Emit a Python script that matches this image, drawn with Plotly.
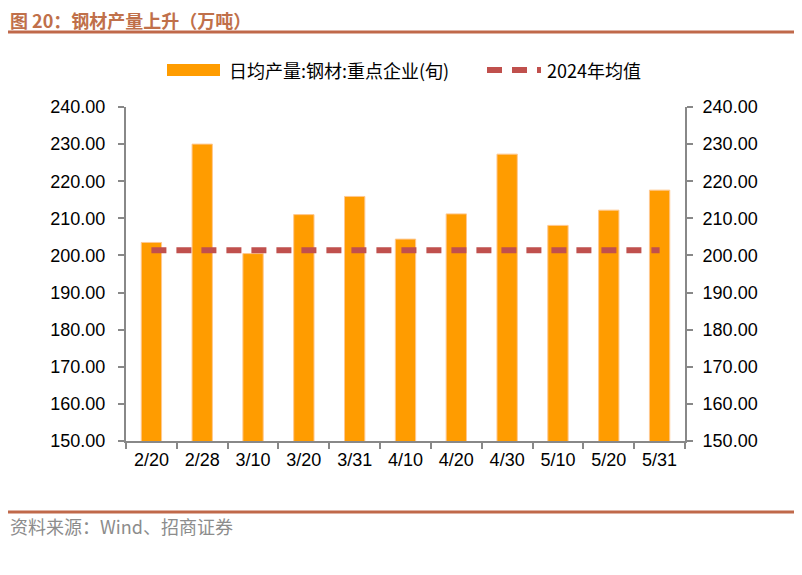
import plotly.graph_objects as go

categories = ["2/20", "2/28", "3/10", "3/20", "3/31", "4/10", "4/20", "4/30", "5/10", "5/20", "5/31"]
output_values = [203.5, 230.0, 200.5, 211.0, 215.9, 204.4, 211.2, 227.3, 208.1, 212.2, 217.6]
avg_2024 = [201.4] * len(categories)
y_ticks = [150, 160, 170, 180, 190, 200, 210, 220, 230, 240]
y_tick_text = [f"{v:.2f}" for v in y_ticks]
bar_name = "日均产量:钢材:重点企业(旬)"
line_name = "2024年均值"

num_font = "Liberation Sans, Arial, sans-serif"
cjk_font = "Noto Sans CJK SC, Liberation Sans, sans-serif"
BAR_COLOR = "#FF9C00"
LINE_COLOR = "#C0504D"
ACCENT = "#C0694A"

# page body has an 8px margin, so the figure is laid out 8px smaller
OFF = 8
W, H = 802 - OFF, 575 - OFF
L, R, T, B = 126 - OFF, 685 - OFF, 107 - OFF, 441 - OFF
PW, PH = R - L, B - T


def px(x):
    """reference-screen x -> paper coords"""
    return (x - OFF - L) / PW


def py(y):
    """reference-screen y -> paper coords"""
    return (B - (y - OFF)) / PH


fig = go.Figure()
fig.add_trace(go.Bar(
    x=categories, y=output_values, name=bar_name,
    marker=dict(color=BAR_COLOR, line=dict(color="#FFC890", width=1)),
    yaxis="y",
))
fig.add_trace(go.Scatter(
    x=categories, y=avg_2024, name=line_name, mode="lines",
    line=dict(color=LINE_COLOR, width=6, dash="15px,10px"),
    yaxis="y2",
))

axis_common = dict(
    range=[150, 240], tickvals=y_ticks, ticktext=y_tick_text,
    showgrid=False, zeroline=False, showline=True, linecolor="#888888", linewidth=2,
    ticks="outside", tickcolor="#888888", ticklen=6, tickwidth=2,
    tickfont=dict(family=num_font, size=18, color="#000000"),
    automargin=False,
)

fig.update_layout(
    width=W, height=H,
    margin=dict(l=L, r=W - R, t=T, b=H - B, autoexpand=False),
    paper_bgcolor="white", plot_bgcolor="white",
    bargap=0.6,
    showlegend=False,
    xaxis=dict(
        type="category", showgrid=False, showline=True, linecolor="#888888", linewidth=2,
        ticks="outside", tickson="boundaries", tickcolor="#888888", ticklen=6, tickwidth=2,
        tickfont=dict(family=num_font, size=18, color="#000000"), automargin=False,
        ticklabelstandoff=1,
    ),
    yaxis=dict(side="left", ticklabelstandoff=9, **axis_common),
    yaxis2=dict(side="right", overlaying="y", ticklabelstandoff=6, **axis_common),
)

# custom legend
fig.add_shape(type="rect", xref="paper", yref="paper",
              x0=px(167), x1=px(220), y0=py(76), y1=py(64),
              fillcolor=BAR_COLOR, line=dict(width=0))
fig.add_annotation(text=bar_name, xref="paper", yref="paper", x=px(227), y=py(70),
                   xanchor="left", yanchor="middle", showarrow=False,
                   font=dict(family=cjk_font, size=18, color="#000000"))
for x0, x1 in [(487, 502), (512, 527), (537, 541)]:
    fig.add_shape(type="line", xref="paper", yref="paper",
                  x0=px(x0), x1=px(x1), y0=py(70), y1=py(70),
                  line=dict(color=LINE_COLOR, width=6))
fig.add_annotation(text=line_name, xref="paper", yref="paper", x=px(545), y=py(70),
                   xanchor="left", yanchor="middle", showarrow=False,
                   font=dict(family=cjk_font, size=18, color="#000000"))

# Title and decoration lines
fig.add_annotation(
    text="<b>图 20：钢材产量上升（万吨）</b>", xref="paper", yref="paper",
    x=px(OFF), y=py(20), xanchor="left", yanchor="middle", showarrow=False,
    font=dict(family=cjk_font, size=18, color="#C0704A"),
)
fig.add_shape(type="line", xref="paper", yref="paper",
              x0=px(OFF), x1=px(802), y0=py(32), y1=py(32),
              line=dict(color=ACCENT, width=3))
fig.add_shape(type="line", xref="paper", yref="paper",
              x0=px(OFF), x1=px(802), y0=py(512), y1=py(512),
              line=dict(color=ACCENT, width=3))
fig.add_annotation(
    text="资料来源：Wind、招商证券", xref="paper", yref="paper",
    x=px(OFF), y=py(526), xanchor="left", yanchor="middle", showarrow=False,
    font=dict(family=cjk_font, size=18, color="#8C8C8C"),
)

fig.write_html("out.html")
